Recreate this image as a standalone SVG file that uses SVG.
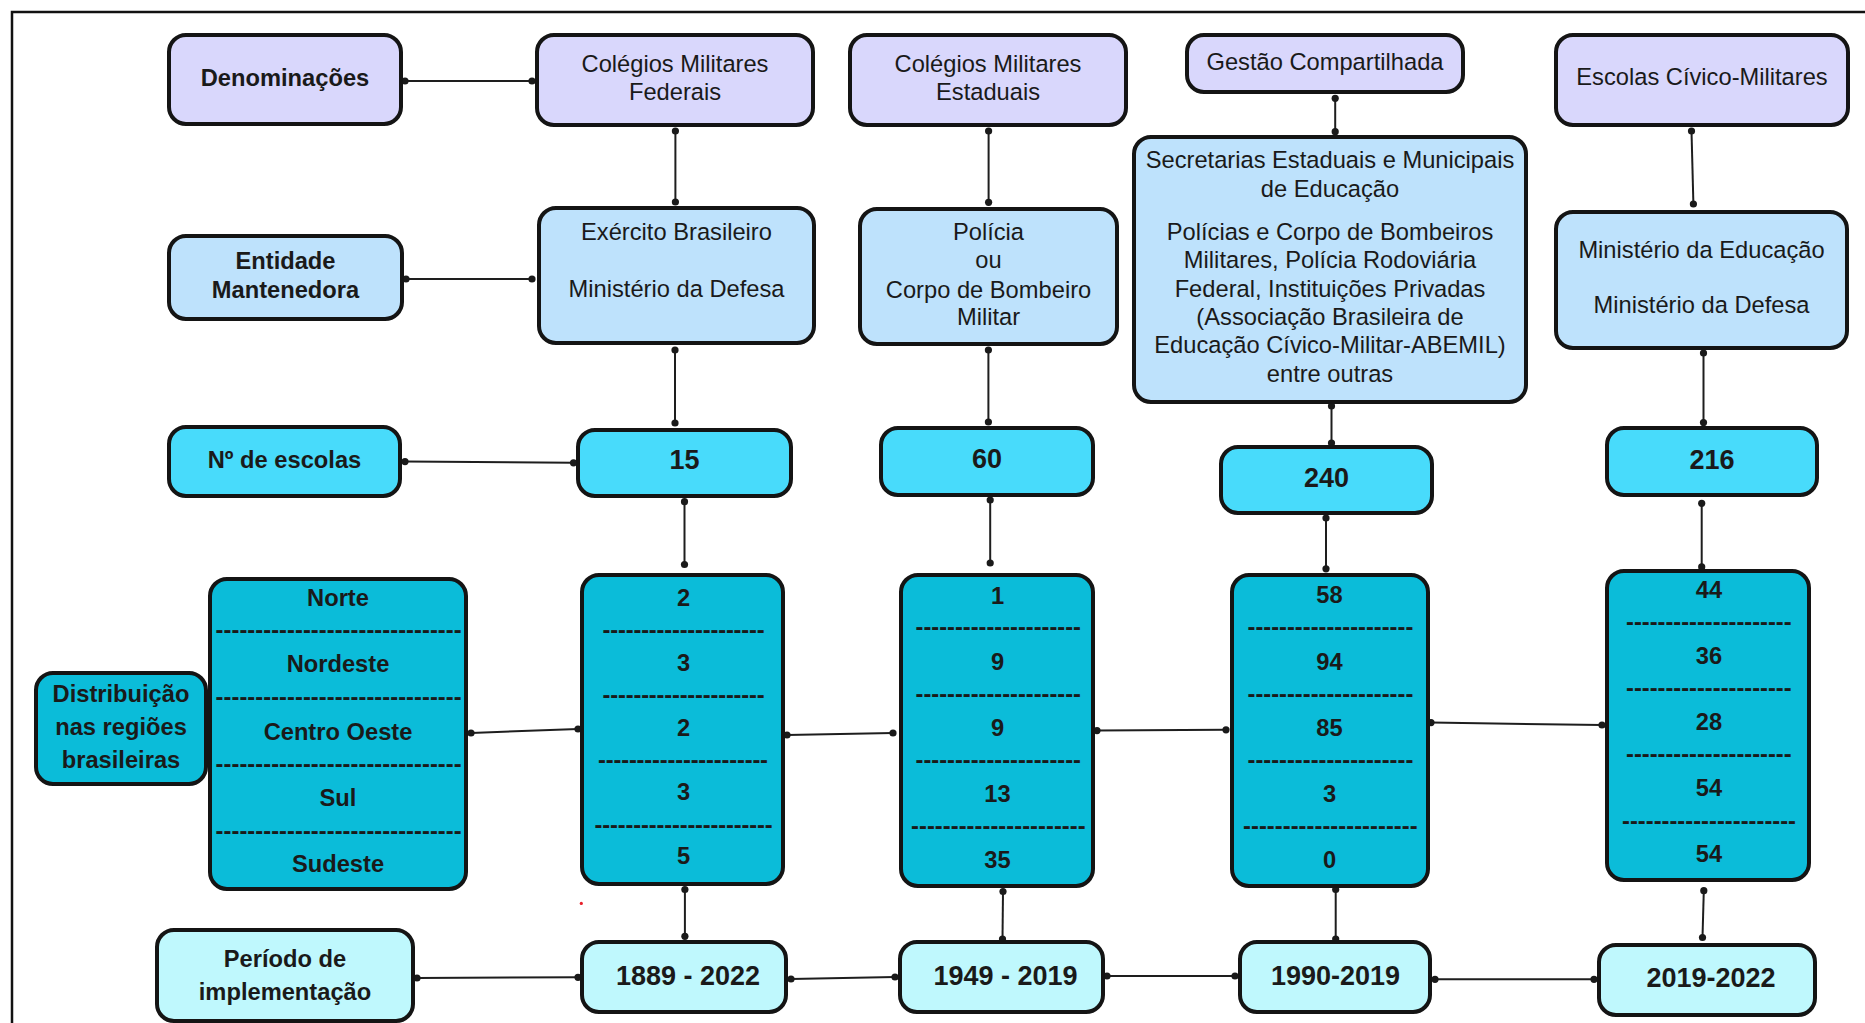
<svg xmlns="http://www.w3.org/2000/svg" width="1865" height="1023" viewBox="0 0 1865 1023">
  <defs>
    <marker id="dot" markerUnits="userSpaceOnUse" markerWidth="10" markerHeight="10" refX="5" refY="5" viewBox="0 0 10 10">
      <circle cx="5" cy="5" r="3.6" fill="#1a1a1a"/>
    </marker>
    <style>
      .box { stroke:#141414; stroke-width:4; }
      .den { fill:#d9d7fc; }
      .ent { fill:#bee2fc; }
      .num { fill:#48dbfb; }
      .reg { fill:#0bbcd9; }
      .per { fill:#bff8fd; }
      text { font-family:"Liberation Sans", Arial, sans-serif; font-size:23.7px; fill:#1a1a1a; text-anchor:middle; }
      .b { font-weight:bold; }
      .big { font-size:27px; font-weight:bold; }
      .dash { font-weight:bold; }
      .conn line { stroke:#1e1e1e; stroke-width:2; marker-start:url(#dot); marker-end:url(#dot); }
    </style>
  </defs>

  <rect width="1865" height="1023" fill="#ffffff"/>
  <!-- outer frame -->
  <path d="M12 1023 V12 H1865" fill="none" stroke="#111" stroke-width="2.5"/>

  <!-- connectors -->
  <g id="connectors" class="conn">
    <line x1="405" y1="81" x2="532" y2="81"/>
    <line x1="406" y1="279" x2="532" y2="279"/>
    <line x1="405" y1="461.6" x2="573.5" y2="462.8"/>
    <line x1="471" y1="733" x2="578" y2="729"/>
    <line x1="787" y1="735" x2="893" y2="733"/>
    <line x1="1097" y1="730.6" x2="1226" y2="729.8"/>
    <line x1="1431" y1="722.6" x2="1602" y2="725"/>
    <line x1="417" y1="978" x2="578" y2="977.3"/>
    <line x1="791" y1="979" x2="895" y2="977"/>
    <line x1="1107" y1="976" x2="1235" y2="976"/>
    <line x1="1435" y1="979.3" x2="1594" y2="979.3"/>

    <line x1="675.4" y1="131" x2="675.4" y2="202"/>
    <line x1="988.6" y1="131" x2="988.6" y2="202.3"/>
    <line x1="1335.2" y1="98.3" x2="1335.2" y2="131.7"/>
    <line x1="1691.5" y1="131" x2="1693.4" y2="204"/>
    <line x1="675" y1="350" x2="675" y2="423"/>
    <line x1="988.4" y1="350" x2="988.4" y2="422"/>
    <line x1="1331.5" y1="406" x2="1331.5" y2="443"/>
    <line x1="1703.5" y1="353" x2="1703.5" y2="422.6"/>
    <line x1="684.5" y1="501.7" x2="684.5" y2="564.5"/>
    <line x1="990.2" y1="500" x2="990.2" y2="563"/>
    <line x1="1326" y1="518" x2="1326" y2="568.8"/>
    <line x1="1701.7" y1="503.3" x2="1701.7" y2="566.9"/>
    <line x1="684.9" y1="889.5" x2="684.9" y2="936.3"/>
    <line x1="1003" y1="891.5" x2="1002.5" y2="939"/>
    <line x1="1335.7" y1="889.5" x2="1335.7" y2="939"/>
    <line x1="1703.8" y1="890.7" x2="1702.5" y2="937.5"/>
  </g>

  <!-- row: names -->
  <g id="denominacoes">
    <rect class="box den" x="169" y="35" width="232" height="89" rx="17"/>
    <text class="b" x="285" y="86">Denominações</text>
  </g>
  <g id="cm-federais">
    <rect class="box den" x="537" y="35" width="276" height="90" rx="17"/>
    <text x="675" y="72">Colégios Militares</text>
    <text x="675" y="100">Federais</text>
  </g>
  <g id="cm-estaduais">
    <rect class="box den" x="850" y="35" width="276" height="90" rx="17"/>
    <text x="988" y="72">Colégios Militares</text>
    <text x="988" y="100">Estaduais</text>
  </g>
  <g id="gestao-compartilhada">
    <rect class="box den" x="1187" y="35" width="276" height="57" rx="17"/>
    <text x="1325" y="70">Gestão Compartilhada</text>
  </g>
  <g id="escolas-civico-militares">
    <rect class="box den" x="1556" y="35" width="292" height="90" rx="17"/>
    <text x="1702" y="85">Escolas Cívico-Militares</text>
  </g>

  <!-- row: maintaining bodies -->
  <g id="entidade">
    <rect class="box ent" x="169" y="236" width="233" height="83" rx="17"/>
    <text class="b" x="285.5" y="269">Entidade</text>
    <text class="b" x="285.5" y="297.5">Mantenedora</text>
  </g>
  <g id="ent-federais">
    <rect class="box ent" x="539" y="208" width="275" height="135" rx="17"/>
    <text x="676.5" y="240">Exército Brasileiro</text>
    <text x="676.5" y="296.5">Ministério da Defesa</text>
  </g>
  <g id="ent-estaduais">
    <rect class="box ent" x="860" y="209" width="257" height="135" rx="17"/>
    <text x="988.5" y="240">Polícia</text>
    <text x="988.5" y="268">ou</text>
    <text x="988.5" y="297.5">Corpo de Bombeiro</text>
    <text x="988.5" y="325">Militar</text>
  </g>
  <g id="ent-gestao">
    <rect class="box ent" x="1134" y="137" width="392" height="265" rx="17"/>
    <text x="1330" y="168">Secretarias Estaduais e Municipais</text>
    <text x="1330" y="196.5">de Educação</text>
    <text x="1330" y="240">Polícias e Corpo de Bombeiros</text>
    <text x="1330" y="268">Militares, Polícia Rodoviária</text>
    <text x="1330" y="296.5">Federal, Instituições Privadas</text>
    <text x="1330" y="325">(Associação Brasileira de</text>
    <text x="1330" y="353">Educação Cívico-Militar-ABEMIL)</text>
    <text x="1330" y="381.5">entre outras</text>
  </g>
  <g id="ent-civico">
    <rect class="box ent" x="1556" y="212" width="291" height="136" rx="17"/>
    <text x="1701.5" y="258">Ministério da Educação</text>
    <text x="1701.5" y="313">Ministério da Defesa</text>
  </g>

  <!-- row: number of schools -->
  <g id="num-escolas">
    <rect class="box num" x="169" y="427" width="231" height="69" rx="17"/>
    <text class="b" x="284.5" y="468">Nº de escolas</text>
  </g>
  <g id="num-federais">
    <rect class="box num" x="578" y="430" width="213" height="66" rx="17"/>
    <text class="big" x="684.5" y="469">15</text>
  </g>
  <g id="num-estaduais">
    <rect class="box num" x="881" y="428" width="212" height="67" rx="17"/>
    <text class="big" x="987" y="468">60</text>
  </g>
  <g id="num-gestao">
    <rect class="box num" x="1221" y="447" width="211" height="66" rx="17"/>
    <text class="big" x="1326.5" y="487">240</text>
  </g>
  <g id="num-civico">
    <rect class="box num" x="1607" y="428" width="210" height="67" rx="17"/>
    <text class="big" x="1712" y="468.5">216</text>
  </g>

  <!-- row: regional distribution -->
  <g id="distribuicao">
    <rect class="box reg" x="36" y="673" width="170" height="111" rx="17"/>
    <text class="b" x="121" y="701.5">Distribuição</text>
    <text class="b" x="121" y="735">nas regiões</text>
    <text class="b" x="121" y="768">brasileiras</text>
  </g>
  <g id="regioes">
    <rect class="box reg" x="210" y="579" width="256" height="310" rx="17"/>
    <text class="b" x="338" y="606">Norte</text>
    <text class="dash" x="338.6" y="638" textLength="246" lengthAdjust="spacing">-------------------------------</text>
    <text class="b" x="338" y="672">Nordeste</text>
    <text class="dash" x="338.6" y="704.5" textLength="246" lengthAdjust="spacing">-------------------------------</text>
    <text class="b" x="338" y="740">Centro Oeste</text>
    <text class="dash" x="338.6" y="772" textLength="246" lengthAdjust="spacing">-------------------------------</text>
    <text class="b" x="338" y="806">Sul</text>
    <text class="dash" x="338.6" y="838.8" textLength="246" lengthAdjust="spacing">-------------------------------</text>
    <text class="b" x="338" y="872">Sudeste</text>
  </g>
  <g id="dist-federais">
    <rect class="box reg" x="582" y="575" width="201" height="309" rx="17"/>
    <text class="b" x="683.5" y="606">2</text>
    <text class="dash" x="683.6" y="638" textLength="162" lengthAdjust="spacing">---------------------</text>
    <text class="b" x="683.5" y="671">3</text>
    <text class="dash" x="683.6" y="703.3" textLength="162" lengthAdjust="spacing">---------------------</text>
    <text class="b" x="683.5" y="736">2</text>
    <text class="dash" x="683" y="768" textLength="170" lengthAdjust="spacing">----------------------</text>
    <text class="b" x="683.5" y="800">3</text>
    <text class="dash" x="683.6" y="832.8" textLength="178" lengthAdjust="spacing">-----------------------</text>
    <text class="b" x="683.5" y="864">5</text>
  </g>
  <g id="dist-estaduais">
    <rect class="box reg" x="901" y="575" width="192" height="311" rx="17"/>
    <text class="b" x="997.5" y="604">1</text>
    <text class="dash" x="998.3" y="635.3" textLength="165.4" lengthAdjust="spacing">---------------------</text>
    <text class="b" x="997.5" y="669.5">9</text>
    <text class="dash" x="998.3" y="701.7" textLength="165.4" lengthAdjust="spacing">---------------------</text>
    <text class="b" x="997.5" y="736">9</text>
    <text class="dash" x="998.3" y="768" textLength="165.4" lengthAdjust="spacing">---------------------</text>
    <text class="b" x="997.5" y="802">13</text>
    <text class="dash" x="998.3" y="834.4" textLength="174.6" lengthAdjust="spacing">----------------------</text>
    <text class="b" x="997.5" y="868">35</text>
  </g>
  <g id="dist-gestao">
    <rect class="box reg" x="1232" y="575" width="196" height="311" rx="17"/>
    <text class="b" x="1329.5" y="603">58</text>
    <text class="dash" x="1330.4" y="635.3" textLength="165.8" lengthAdjust="spacing">---------------------</text>
    <text class="b" x="1329.5" y="669.5">94</text>
    <text class="dash" x="1330.4" y="701.7" textLength="165.8" lengthAdjust="spacing">---------------------</text>
    <text class="b" x="1329.5" y="735.5">85</text>
    <text class="dash" x="1330.4" y="768" textLength="165.8" lengthAdjust="spacing">---------------------</text>
    <text class="b" x="1329.5" y="802">3</text>
    <text class="dash" x="1330.3" y="834.4" textLength="174.6" lengthAdjust="spacing">----------------------</text>
    <text class="b" x="1329.5" y="868">0</text>
  </g>
  <g id="dist-civico">
    <rect class="box reg" x="1607" y="571" width="202" height="309" rx="17"/>
    <text class="b" x="1709" y="597.5">44</text>
    <text class="dash" x="1708.8" y="629.8" textLength="165.6" lengthAdjust="spacing">---------------------</text>
    <text class="b" x="1709" y="663.5">36</text>
    <text class="dash" x="1708.8" y="695.7" textLength="165.6" lengthAdjust="spacing">---------------------</text>
    <text class="b" x="1709" y="729.5">28</text>
    <text class="dash" x="1708.8" y="762.1" textLength="165.6" lengthAdjust="spacing">---------------------</text>
    <text class="b" x="1709" y="796">54</text>
    <text class="dash" x="1709" y="828.5" textLength="174" lengthAdjust="spacing">----------------------</text>
    <text class="b" x="1709" y="862">54</text>
  </g>

  <!-- row: implementation period -->
  <g id="periodo">
    <rect class="box per" x="157" y="930" width="256" height="91" rx="17"/>
    <text class="b" x="285" y="966.5">Período de</text>
    <text class="b" x="285" y="999.5">implementação</text>
  </g>
  <g id="per-federais">
    <rect class="box per" x="582" y="942" width="204" height="70" rx="17"/>
    <text class="big" x="688" y="984.5">1889 - 2022</text>
  </g>
  <g id="per-estaduais">
    <rect class="box per" x="900" y="942" width="203" height="70" rx="17"/>
    <text class="big" x="1005.5" y="984.5">1949 - 2019</text>
  </g>
  <g id="per-gestao">
    <rect class="box per" x="1240" y="942" width="190" height="70" rx="17"/>
    <text class="big" x="1335.5" y="984.5">1990-2019</text>
  </g>
  <g id="per-civico">
    <rect class="box per" x="1599" y="945" width="216" height="70" rx="17"/>
    <text class="big" x="1711" y="986.5">2019-2022</text>
  </g>

  <circle cx="581.3" cy="903.4" r="1.6" fill="#e8202a"/>
</svg>
